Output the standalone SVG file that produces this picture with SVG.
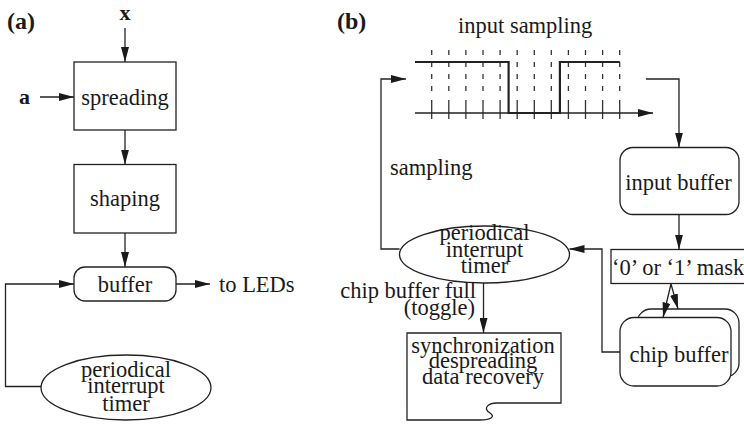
<svg xmlns="http://www.w3.org/2000/svg" width="744" height="425" viewBox="0 0 744 425">
  <defs>
    <marker id="arrow" markerUnits="userSpaceOnUse" markerWidth="15" markerHeight="8" refX="15" refY="4" orient="auto">
      <path d="M0,0 L15,4 L0,8 z" fill="#1a1a1a"/>
    </marker>
    <style>
      text { font-family: "Liberation Serif", "Times New Roman", serif; font-size: 22.5px; fill: #1a1a1a; }
      .c { text-anchor: middle; }
      .e { text-anchor: end; }
      .title { font-weight: bold; font-size: 24px; }
      .var { font-weight: bold; font-size: 22px; }
      .box { fill: #fff; stroke: #222; stroke-width: 1.3; }
      .arr { fill: none; stroke: #222; stroke-width: 1.3; marker-end: url(#arrow); }
      .grid { fill: none; stroke: #333; stroke-width: 1.3; }
      .dash { stroke-dasharray: 5 7; }
      .signal { fill: none; stroke: #222; stroke-width: 2.2; }
    </style>
  </defs>

  <!-- panel (a): transmitter -->
  <text class="title" x="7" y="29">(a)</text>
  <text class="var" x="125" y="19.5" text-anchor="middle">x</text>
  <text class="var" x="19" y="104">a</text>

  <g id="spreading">
    <rect class="box" x="74" y="62" width="102" height="68"/>
    <text class="c" x="125" y="105">spreading</text>
  </g>
  <g id="shaping">
    <rect class="box" x="74" y="164.5" width="102" height="68.5"/>
    <text class="c" x="125" y="206">shaping</text>
  </g>
  <g id="buffer">
    <rect class="box" x="74" y="267" width="102" height="34" rx="11"/>
    <text class="c" x="125" y="292">buffer</text>
  </g>
  <text x="219" y="292">to LEDs</text>
  <g id="timer-a">
    <ellipse class="box" cx="126" cy="387.5" rx="85" ry="32.5"/>
    <text class="c" x="126" y="376.5">periodical</text>
    <text class="c" x="126" y="393">interrupt</text>
    <text class="c" x="126" y="410.5">timer</text>
  </g>

  <g id="connectors-a">
    <line class="arr" x1="125" y1="28" x2="125" y2="62"/>
    <line class="arr" x1="40" y1="97" x2="74" y2="97"/>
    <line class="arr" x1="125" y1="130" x2="125" y2="164.5"/>
    <line class="arr" x1="125" y1="233" x2="125" y2="267"/>
    <line class="arr" x1="176" y1="284" x2="210" y2="284"/>
    <polyline class="arr" points="41,386.5 5.5,386.5 5.5,284 74,284"/>
  </g>

  <!-- panel (b): receiver -->
  <text class="title" x="337" y="29">(b)</text>
  <text x="458" y="33">input sampling</text>

  <g id="input-sampling">
    <g class="grid">
      <path class="dash" d="M431.7,50V96 M448.8,50V96 M465.9,50V96 M483,50V96 M500.1,50V96 M517.2,50V96 M534.3,50V96 M551.3,50V96 M568.4,50V96 M585.5,50V96 M602.6,50V96 M619.7,50V96"/>
      <path d="M431.7,100V119 M448.8,100V119 M465.9,100V119 M483,100V119 M500.1,100V119 M517.2,100V119 M534.3,100V119 M551.3,100V119 M568.4,100V119 M585.5,100V119 M602.6,100V119 M619.7,100V119"/>
    </g>
    <line class="arr" x1="415" y1="113" x2="653" y2="113"/>
    <polyline class="signal" points="415,62 508.6,62 508.6,113 559.9,113 559.9,62 619.7,62"/>
  </g>

  <text x="390" y="175">sampling</text>

  <g id="input-buffer">
    <rect class="box" x="620" y="147.5" width="119" height="67" rx="13"/>
    <text class="c" x="678.5" y="190">input buffer</text>
  </g>
  <g id="mask">
    <rect class="box" x="611" y="249.5" width="150" height="34"/>
    <text x="612" y="275">‘0’ or ‘1’ mask</text>
  </g>
  <g id="chip-buffer">
    <rect class="box" x="637" y="309" width="102" height="68" rx="14"/>
    <rect class="box" x="620" y="317.5" width="111" height="68.5" rx="14"/>
    <text class="c" x="679" y="362">chip buffer</text>
  </g>
  <g id="timer-b">
    <ellipse class="box" cx="484.5" cy="254.5" rx="85" ry="28.5"/>
    <text class="c" x="484.5" y="240">periodical</text>
    <text class="c" x="484.5" y="256.5">interrupt</text>
    <text class="c" x="484.5" y="273">timer</text>
  </g>
  <text class="e" x="476" y="298">chip buffer full</text>
  <text class="e" x="475" y="315">(toggle)</text>
  <g id="processing">
    <path class="box" d="M407,333 L561,333 L561,403 L497,403 C487,403 483,409 490,413 C496,417 490,420 480,420 L407,420 Z"/>
    <text class="c" x="483" y="352.5">synchronization</text>
    <text class="c" x="483" y="368">despreading</text>
    <text class="c" x="483" y="384">data recovery</text>
  </g>

  <g id="connectors-b">
    <polyline class="arr" points="399.5,249 381,249 381,79 406,79"/>
    <polyline class="arr" points="646,79 679,79 679,147.5"/>
    <line class="arr" x1="679" y1="214.5" x2="679" y2="249.5"/>
    <line class="arr" x1="671" y1="284" x2="663" y2="317.5"/>
    <line class="arr" x1="671" y1="284" x2="678" y2="309"/>
    <polyline class="arr" points="620,352 602,352 602,249 569.5,249"/>
    <line class="arr" x1="483.5" y1="283" x2="483.5" y2="333"/>
  </g>
</svg>
